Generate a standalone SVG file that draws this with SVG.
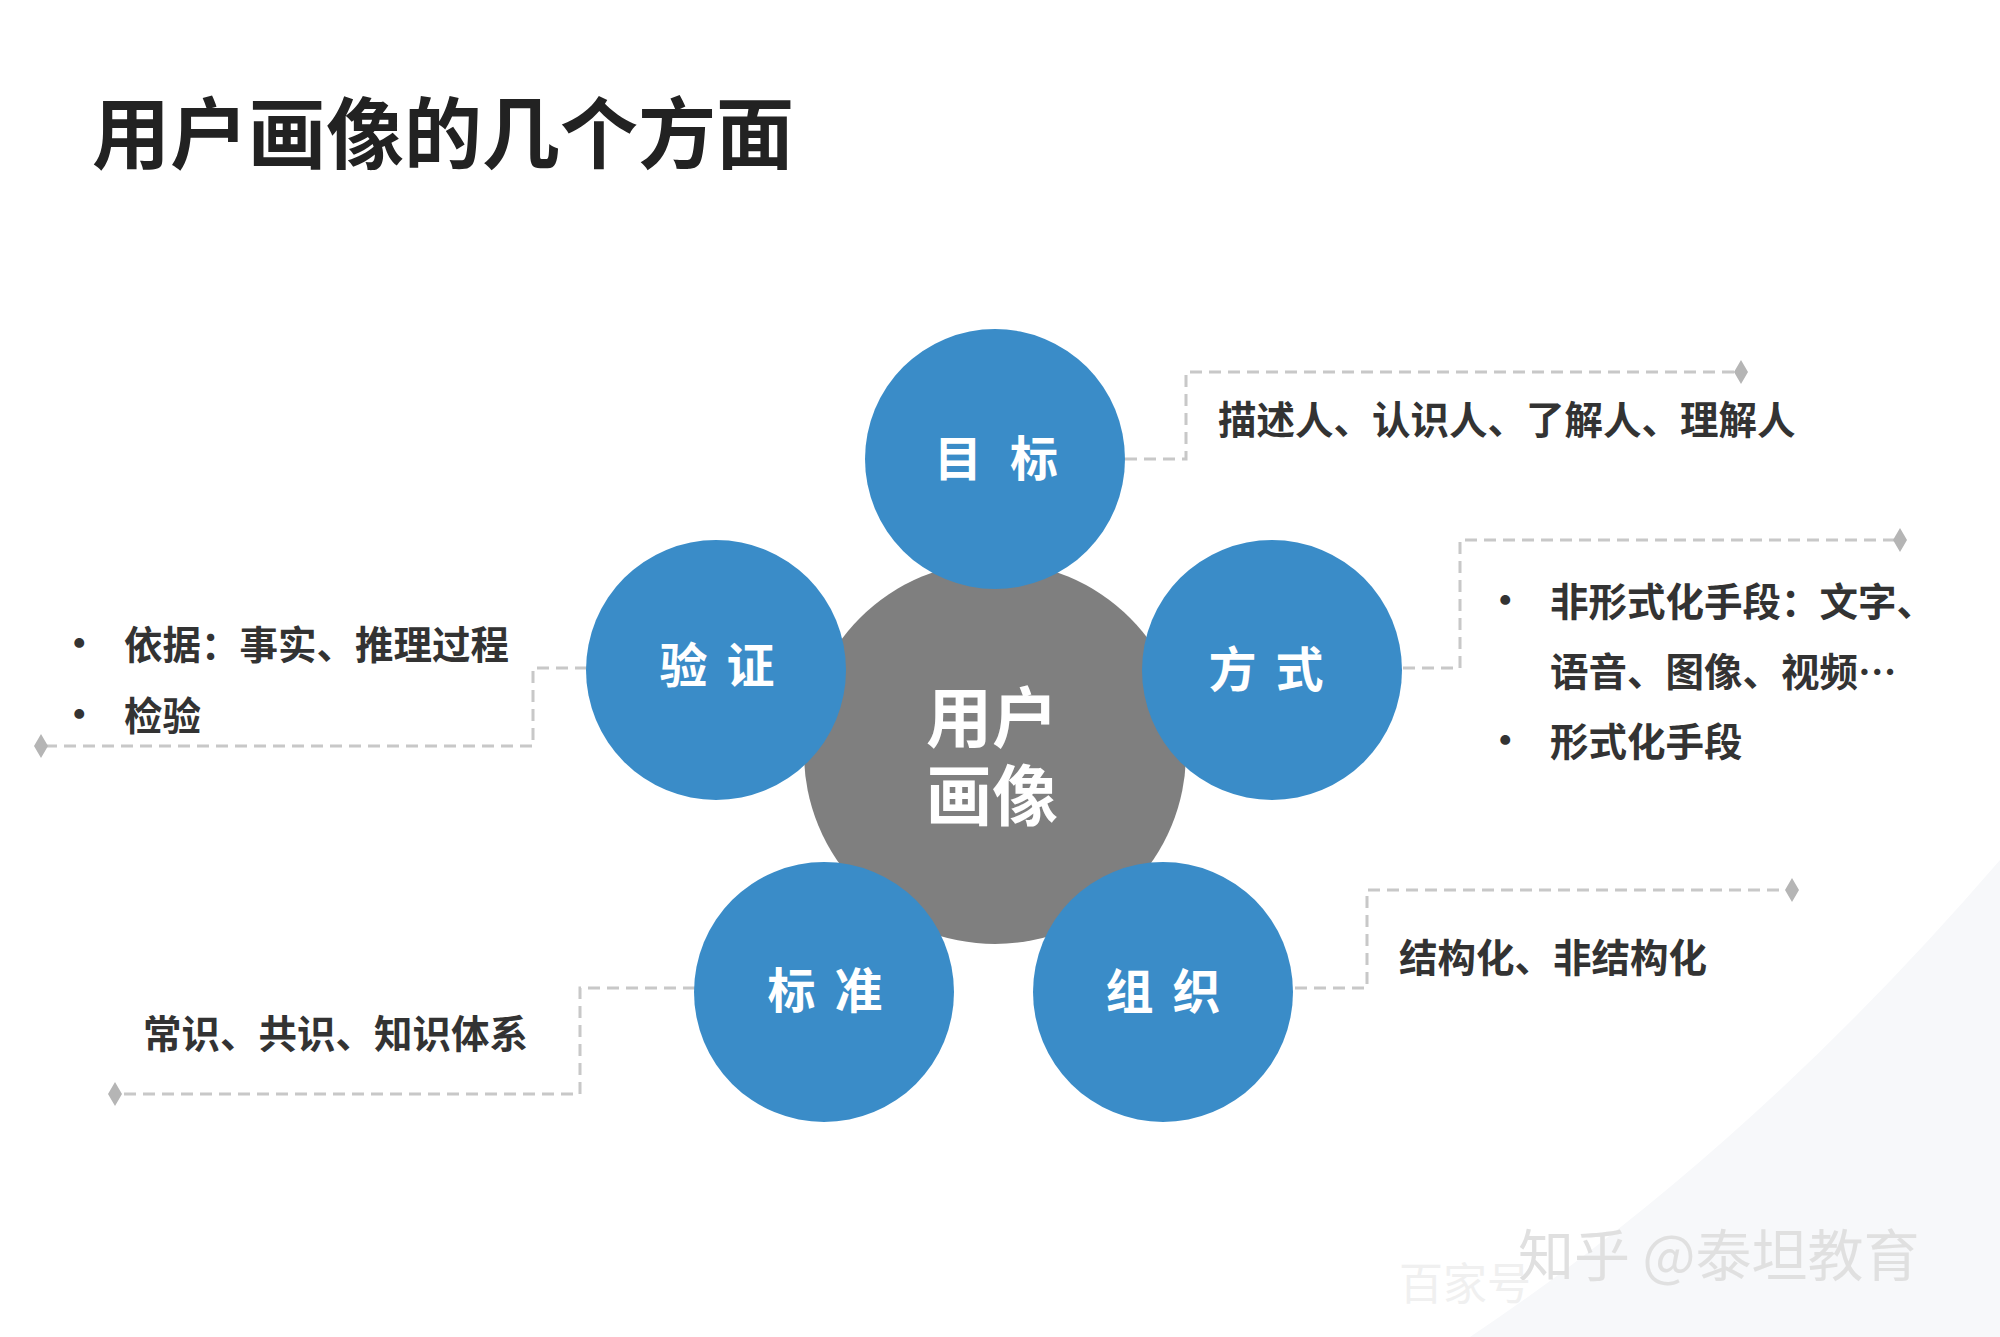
<svg xmlns="http://www.w3.org/2000/svg" width="2000" height="1337" viewBox="0 0 2000 1337">
<style>
.t{font-family:"Noto Sans CJK SC","Liberation Sans",sans-serif;font-weight:bold}
.lbl{font-size:48px;fill:#fff;text-anchor:middle;letter-spacing:4px}
.d{font-size:38.5px;fill:#333}
.c{fill:none;stroke:#c8c8c8;stroke-width:3;stroke-dasharray:12 7}
.blue{fill:#3a8cc8}
.dm{fill:#b5b5b5}
</style>
<rect width="2000" height="1337" fill="#fff"/>
<path d="M1470 1337 Q1750 1150 2000 860 L2000 1337 Z" fill="#f7f8fa"/>
<text class="t" x="92" y="163" font-size="78" fill="#222">用户画像的几个方面</text>
<g id="connectors">
<polyline class="c" points="1125,459 1186,459 1186,372 1741,372"/>
<polyline class="c" points="1403,668 1460,668 1460,540 1900,540"/>
<polyline class="c" points="1295,988 1367,988 1367,890 1792,890"/>
<polyline class="c" points="695,988 580,988 580,1094 115,1094"/>
<polyline class="c" points="587,668 533,668 533,746 41,746"/>
<path class="dm" d="M1741,360 l7,12 -7,12 -7,-12z M1900,528 l7,12 -7,12 -7,-12z M1792,878 l7,12 -7,12 -7,-12z M115,1082 l7,12 -7,12 -7,-12z M41,734 l7,12 -7,12 -7,-12z"/>
</g>
<g id="center">
<circle cx="995" cy="753" r="191" fill="#7f7f7f"/>
<text class="t" x="992" y="742" font-size="66" fill="#fff" text-anchor="middle">用户</text>
<text class="t" x="992" y="820" font-size="66" fill="#fff" text-anchor="middle">画像</text>
</g>
<g id="mubiao"><circle class="blue" cx="995" cy="459" r="130"/><text class="t lbl" x="1010" y="476" style="letter-spacing:28px">目标</text></g>
<g id="fangshi"><circle class="blue" cx="1272" cy="670" r="130"/><text class="t lbl" x="1268" y="687">方 式</text></g>
<g id="zuzhi"><circle class="blue" cx="1163" cy="992" r="130"/><text class="t lbl" x="1165" y="1009">组 织</text></g>
<g id="biaozhun"><circle class="blue" cx="824" cy="992" r="130"/><text class="t lbl" x="827" y="1008">标 准</text></g>
<g id="yanzheng"><circle class="blue" cx="716" cy="670" r="130"/><text class="t lbl" x="719" y="683">验 证</text></g>
<g id="texts">
<text class="t d" x="1218" y="434">描述人、认识人、了解人、理解人</text>
<text class="t d" x="1486" y="614">•</text><text class="t d" x="1550" y="616">非形式化手段：文字、</text>
<text class="t d" x="1550" y="686">语音、图像、视频…</text>
<text class="t d" x="1486" y="754">•</text><text class="t d" x="1550" y="756">形式化手段</text>
<text class="t d" x="1399" y="972">结构化、非结构化</text>
<text class="t d" x="143" y="1048">常识、共识、知识体系</text>
<text class="t d" x="60" y="657">•</text><text class="t d" x="124" y="659">依据：事实、推理过程</text>
<text class="t d" x="60" y="728">•</text><text class="t d" x="124" y="730">检验</text>
</g>
<text x="1518" y="1276" font-family="Noto Sans CJK SC,sans-serif" font-size="56" fill="#e0e0e0">知乎 @泰坦教育</text>
<text x="1399" y="1300" font-family="Noto Sans CJK SC,sans-serif" font-size="44" fill="#f0f0f0">百家号</text>
</svg>
